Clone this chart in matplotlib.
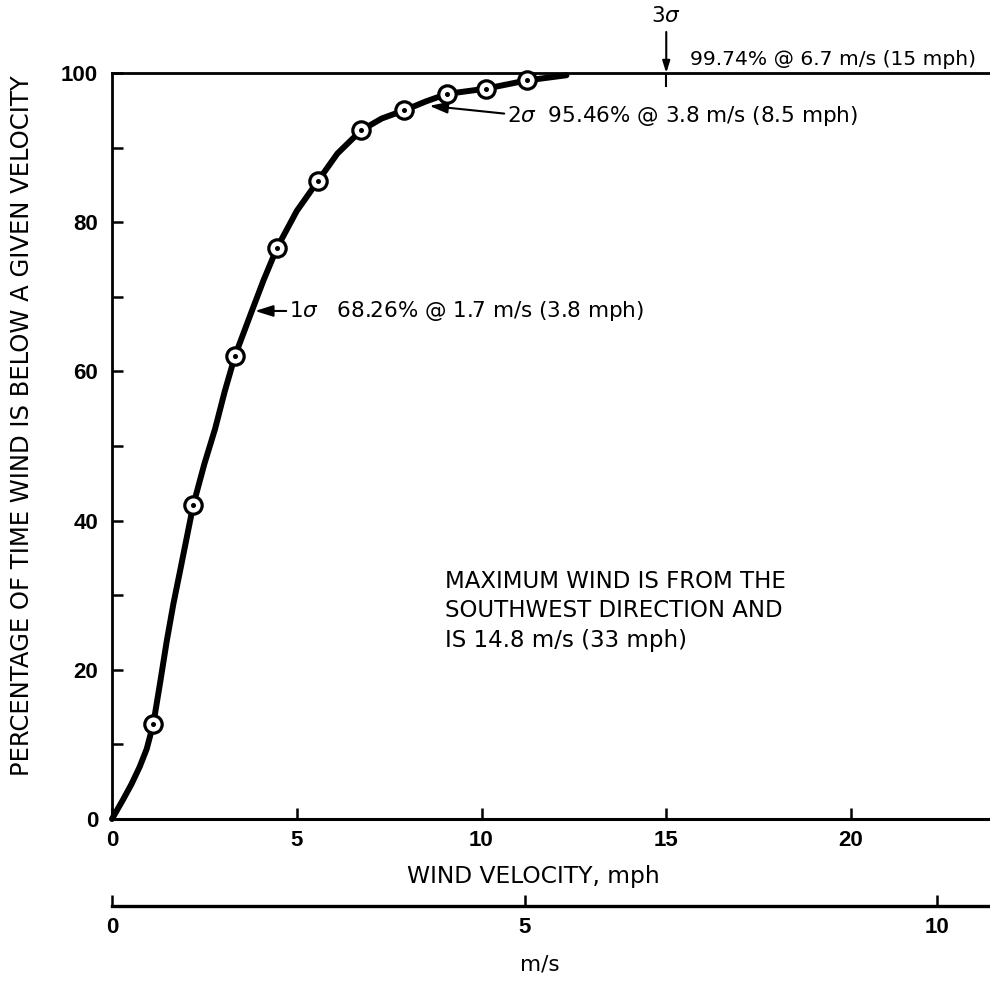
import matplotlib
matplotlib.use("Agg")
import matplotlib.pyplot as plt

plt.rcParams['font.family'] = ['DejaVu Sans']
plt.rcParams['mathtext.fontset'] = 'custom'
plt.rcParams['mathtext.rm'] = 'DejaVu Sans'
plt.rcParams['mathtext.it'] = 'DejaVu Sans:italic'

# ---- data ----
# measured points (circles), wind speed in mph vs percent of time below
point_mph = [1.12, 2.2, 3.33, 4.47, 5.57, 6.74, 7.91, 9.07, 10.12, 11.22]
point_pct = [12.8, 42.1, 62.1, 76.6, 85.5, 92.3, 95.0, 97.2, 97.9, 99.0]

# drawn cumulative curve (traced)
curve_mph = [0.0, 0.3, 0.53, 0.75, 0.94, 1.12, 1.3, 1.48, 1.66, 1.84, 2.2, 2.5, 2.79,
             3.05, 3.33, 3.8, 4.1, 4.47, 5.0, 5.57, 6.1, 6.74, 7.3, 7.91, 8.5,
             9.07, 10.12, 11.22, 12.3]
curve_pct = [0.0, 2.6, 4.7, 7.0, 9.4, 12.8, 18.2, 23.8, 28.8, 33.2, 42.1, 47.6, 52.3,
             57.3, 62.1, 68.3, 72.2, 76.6, 81.5, 85.5, 89.2, 92.3, 93.9, 95.0, 96.2,
             97.2, 97.9, 99.0, 99.7]

x_major = [0, 5, 10, 15, 20]
y_major = [0, 20, 40, 60, 80, 100]
y_minor = [10, 30, 50, 70, 90]
ms_ticks = [0, 5, 10]

sigma1 = (3.87, 68.1)
sigma2 = (8.59, 95.6)
sigma3 = (15, 100)

W, H = 990, 981
fig = plt.figure(figsize=(W / 100, H / 100), dpi=100)

def fx(px):
    return px / W

def fy(py):
    return 1 - py / H

TXT = 15.5
TICK_FONT = dict(family=['Liberation Sans', 'DejaVu Sans'], weight='bold', size=16)

left_px, right_px, top_px, bot_px = 112, 990, 73, 819
px_per_mph = 36.95
ax = fig.add_axes([fx(left_px), fy(bot_px), (right_px - left_px) / W, (bot_px - top_px) / H])
ax.set_xlim(0, (right_px - left_px) / px_per_mph)
ax.set_ylim(0, 100)
ax.spines['right'].set_visible(False)
for s in ['left', 'top', 'bottom']:
    ax.spines[s].set_linewidth(2.0)
ax.spines['bottom'].set_linewidth(2.2)

ax.set_xticks(x_major)
ax.set_xticklabels([str(v) for v in x_major], fontdict=TICK_FONT)
ax.set_yticks(y_major)
ax.set_yticklabels([str(v) for v in y_major], fontdict=TICK_FONT)
ax.set_yticks(y_minor, minor=True)
ax.tick_params(axis='both', which='both', direction='in', length=8, width=1.8,
               top=False, right=False)
ax.tick_params(axis='x', pad=8)
ax.tick_params(axis='y', pad=10)

# curve and points
ax.plot(curve_mph, curve_pct, color='black', lw=4.3, solid_joinstyle='round',
        solid_capstyle='round', zorder=2, clip_on=False)
ax.plot(point_mph, point_pct, 'o', ms=12.5, mfc='white', mec='black', mew=2.3,
        zorder=3, clip_on=False)
ax.plot(point_mph, point_pct, 'o', ms=2.6, color='black', zorder=4, clip_on=False)

arrow_kw = dict(arrowstyle='-|>,head_length=0.7,head_width=0.22', color='black', lw=1.5,
                shrinkA=0, shrinkB=0)

# 1 sigma
ax.annotate('1$\\sigma$   68.26% @ 1.7 m/s (3.8 mph)', xy=sigma1,
            xytext=(4.79, 68.1), ha='left', va='center', fontsize=TXT,
            arrowprops=dict(arrow_kw, relpos=(0, 0.5)))
# 2 sigma
ax.annotate('2$\\sigma$  95.46% @ 3.8 m/s (8.5 mph)', xy=sigma2,
            xytext=(10.69, 94.2), ha='left', va='center', fontsize=TXT,
            arrowprops=dict(arrow_kw, relpos=(0, 0.6)))
# 3 sigma
ax.annotate('', xy=sigma3, xytext=(15, 105.5), annotation_clip=False,
            arrowprops=arrow_kw)
ax.plot([15, 15], [100, 98.2], color='black', lw=1.5)
ax.text(15, 107.6, '3$\\sigma$', ha='center', va='center', fontsize=TXT, clip_on=False)
ax.text(15.64, 101.8, '99.74% @ 6.7 m/s (15 mph)', ha='left', va='center',
        fontsize=14.6, clip_on=False)

ax.text(9.01, 27.9, 'MAXIMUM WIND IS FROM THE\nSOUTHWEST DIRECTION AND\nIS 14.8 m/s (33 mph)',
        ha='left', va='center', fontsize=16.5, linespacing=1.38)

# y label and x label
fig.text(fx(22), fy(426), 'PERCENTAGE OF TIME WIND IS BELOW A GIVEN VELOCITY',
         rotation=90, ha='center', va='center', fontsize=17.5)
fig.text(fx(533), fy(877), 'WIND VELOCITY, mph', ha='center', va='center', fontsize=16.8)

# m/s scale
px_per_ms = 82.5
ax2 = fig.add_axes([fx(left_px), fy(905.7), (right_px - left_px) / W, 0.0001])
ax2.set_xlim(0, (right_px - left_px) / px_per_ms)
ax2.set_ylim(0, 1)
for s in ['left', 'right', 'top']:
    ax2.spines[s].set_visible(False)
ax2.spines['bottom'].set_linewidth(2.4)
ax2.set_yticks([])
ax2.set_xticks(ms_ticks)
ax2.set_xticklabels([str(v) for v in ms_ticks], fontdict=TICK_FONT)
ax2.tick_params(axis='x', direction='in', length=8, width=1.8, pad=8)
fig.text(fx(540), fy(965), 'm/s', ha='center', va='center', fontsize=TXT)

fig.savefig('out.png', dpi=100, facecolor='white')
